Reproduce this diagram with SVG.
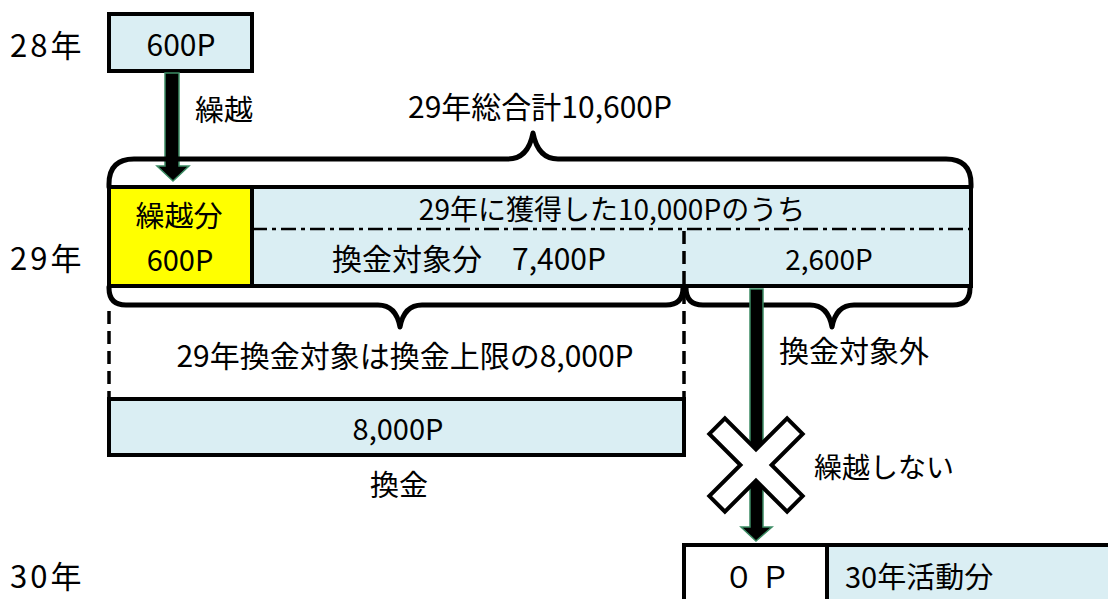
<svg xmlns="http://www.w3.org/2000/svg" width="1108" height="599" viewBox="0 0 1108 599">
<style>
text{font-family:"Noto Sans CJK JP","Liberation Sans",sans-serif;fill:#000}
.yr{font-size:31px;letter-spacing:3px}
.t{font-size:30px}
.s{font-size:28px}
.l{font-size:29px}
.c{text-anchor:middle}
.box{stroke:#000;stroke-width:4}
.blue{fill:#DAEEF3}
.brace{fill:none;stroke:#000;stroke-width:5;stroke-linejoin:round;stroke-linecap:round}
.dash{fill:none;stroke:#000;stroke-width:3.5;stroke-dasharray:13 7}
.arrow{fill:#000;stroke:#3C8C64;stroke-width:1.5}
</style>
<rect width="1108" height="599" fill="#fff"/>
<g id="labels">
<text class="yr" x="10" y="57">28年</text>
<text class="yr" x="10" y="270">29年</text>
<text class="yr" x="10" y="588">30年</text>
</g>
<g id="node-28">
<rect class="box blue" x="109" y="14" width="143" height="57"/>
<text class="t c" x="181" y="56">600P</text>
</g>
<g id="connectors">
<polygon class="arrow" points="165,73 179,73 179,166 189,166 173,181 157,166 165,166"/>
<text class="l" x="195" y="121">繰越</text>
<path class="brace" d="M109,187 L109,184 Q109,159 134,159 L508,159 Q528,159 533,133 Q538,159 558,159 L946,159 Q971,159 971,184 L971,187"/>
<text class="t c" x="540" y="118">29年総合計10,600P</text>
<path class="brace" d="M109,287 L109,288 Q109,305 126,305 L378,305 Q396,305 400,327 Q404,305 422,305 L666,305 Q683,305 683,288 L683,287"/>
<path class="brace" d="M686,287 L686,288 Q686,305 703,305 L810,305 Q828,305 832,327 Q836,305 854,305 L953,305 Q970,305 970,288 L970,287"/>
<line class="dash" x1="109" y1="311" x2="109" y2="398"/>
<line class="dash" x1="684" y1="231" x2="684" y2="398"/>
<polygon class="arrow" points="750,289 763,289 763,527 772,527 756,541 741,527 750,527"/>
<polygon fill="#fff" stroke="#000" stroke-width="4" stroke-linejoin="miter" transform="translate(756,465) rotate(45)" points="-11,-55 11,-55 11,-11 55,-11 55,11 11,11 11,55 -11,55 -11,11 -55,11 -55,-11 -11,-11"/>
<text class="t" x="779" y="362">換金対象外</text>
<text class="s" x="814" y="478">繰越しない</text>
<text class="t c" x="405" y="367">29年換金対象は換金上限の8,000P</text>
</g>
<g id="node-29">
<rect class="blue" x="252" y="187" width="719" height="99"/>
<rect fill="#FFFF00" x="109" y="187" width="143" height="99"/>
<line x1="252" y1="229" x2="971" y2="229" stroke="#000" stroke-width="2.5" stroke-dasharray="15 5 4 5"/>
<line class="dash" x1="684" y1="231" x2="684" y2="286"/>
<line x1="252" y1="187" x2="252" y2="286" stroke="#000" stroke-width="4"/>
<rect class="box" fill="none" x="109" y="187" width="862" height="99"/>
<text class="l c" x="179" y="227">繰越分</text>
<text class="l c" x="180" y="271">600P</text>
<text class="s c" x="612" y="220">29年に獲得した10,000Pのうち</text>
<text class="t c" x="469" y="270">換金対象分　7,400P</text>
<text class="s c" x="829" y="270">2,600P</text>
</g>
<g id="node-8000">
<rect class="box blue" x="109" y="399" width="575" height="56"/>
<text class="l c" x="398" y="440">8,000P</text>
<text class="l c" x="399" y="496">換金</text>
</g>
<g id="node-30">
<rect class="box blue" x="684" y="545" width="430" height="60"/>
<rect class="box" fill="#fff" x="684" y="545" width="143" height="60"/>
<text class="t c" x="757" y="588">０ Ｐ</text>
<text class="l" x="845" y="588">30年活動分</text>
</g>
</svg>
